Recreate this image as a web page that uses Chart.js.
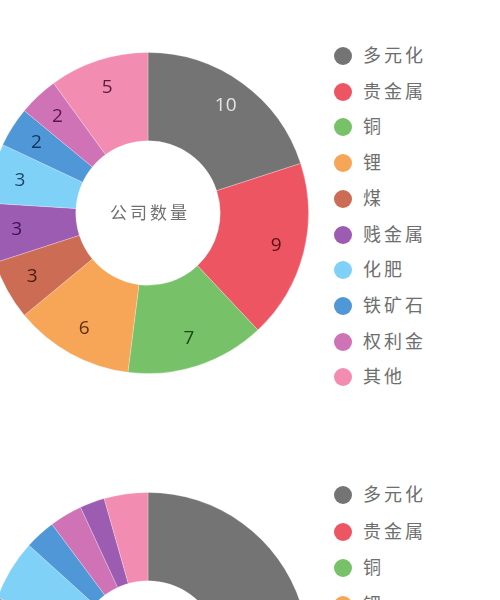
<!DOCTYPE html>
<html>
<head>
<meta charset="utf-8">
<script src="https://cdn.jsdelivr.net/npm/chart.js@4.4.1/dist/chart.umd.min.js"></script>
<style>
html,body{margin:0;padding:0;background:#fff;width:500px;height:600px;overflow:hidden;position:relative;}
.box{position:absolute;width:322px;height:322px;}
.legend{position:absolute;left:334px;font-family:"Noto Sans CJK SC","Noto Sans",sans-serif;font-size:18px;color:#6e6e6e;letter-spacing:3px;}
.item{position:absolute;left:0;white-space:nowrap;height:20px;line-height:20px;}
.dot{position:absolute;left:0;top:1px;width:18px;height:18px;border-radius:50%;}
.txt{position:absolute;left:29px;top:-2px;}
</style>
</head>
<body>
<div class="box" style="left:-13px;top:52px;"><canvas id="c1"></canvas></div>
<div class="box" style="left:-13px;top:492px;"><canvas id="c2"></canvas></div>
<div class="legend" id="l1" style="top:46px;"></div>
<div class="legend" id="l2" style="top:485px;"></div>
<script>
// ---- data ----
const categories1 = ["多元化","贵金属","铜","锂","煤","贱金属","化肥","铁矿石","权利金","其他"];
const companyCounts = [10, 9, 7, 6, 3, 3, 3, 2, 2, 5];
const colors1 = ["#747474","#ee5562","#77c268","#f7a556","#cd6c55","#9b5cb1","#7fd1f7","#4f97d6","#cf72b6","#f28db1"];
const labelColors1 = ["#e4e4e4","#5a1119","#1b4a15","#5a300b","#4a1a12","#3e1450","#1c4a66","#12345a","#5a1448","#5a1a3a"];
const centerText1 = "公司数量";

const categories2 = ["多元化","贵金属","铜","锂","煤","化肥","铁矿石","权利金","贱金属","其他"];
const shares2 = [40, 16, 12, 8, 4.6, 6.1, 3.1, 3.3, 2.5, 4.4];
const colors2 = ["#747474","#ee5562","#77c268","#f7a556","#cd6c55","#7fd1f7","#4f97d6","#cf72b6","#9b5cb1","#f28db1"];

// ---- plugins ----
const sliceLabels = {
  id: 'sliceLabels',
  afterDatasetsDraw(chart, args, opts) {
    if (!opts.show) return;
    const ctx = chart.ctx;
    const meta = chart.getDatasetMeta(0);
    ctx.save();
    ctx.font = '19px "Open Sans", "Noto Sans", sans-serif';
    ctx.textAlign = 'center';
    ctx.textBaseline = 'middle';
    meta.data.forEach((arc, i) => {
      const p = arc.getProps(['x','y','startAngle','endAngle','innerRadius','outerRadius'], true);
      const a = (p.startAngle + p.endAngle) / 2;
      const r = p.innerRadius + 0.68 * (p.outerRadius - p.innerRadius);
      ctx.fillStyle = opts.colors[i];
      ctx.fillText(String(chart.data.datasets[0].data[i]), p.x + r * Math.cos(a), p.y + r * Math.sin(a));
    });
    ctx.restore();
  }
};
const centerLabel = {
  id: 'centerLabel',
  afterDraw(chart, args, opts) {
    if (!opts.text) return;
    const arc = chart.getDatasetMeta(0).data[0];
    const ctx = chart.ctx;
    ctx.save();
    ctx.font = '17px "Noto Sans CJK SC", sans-serif';
    ctx.fillStyle = '#707070';
    ctx.textAlign = 'center';
    ctx.textBaseline = 'middle';
    if ('letterSpacing' in ctx) ctx.letterSpacing = '3px';
    ctx.fillText(opts.text, arc.x + 2, arc.y);
    ctx.restore();
  }
};

function makeChart(id, labels, data, colors, labelColors, text) {
  return new Chart(document.getElementById(id), {
    type: 'doughnut',
    data: { labels, datasets: [{ data, backgroundColor: colors, borderColor: 'rgba(255,255,255,0.25)', borderWidth: 1 }] },
    options: {
      responsive: true, maintainAspectRatio: false, animation: false,
      cutout: '45%',
      layout: { padding: 0 },
      plugins: {
        legend: { display: false }, tooltip: { enabled: false },
        sliceLabels: { show: !!labelColors, colors: labelColors || [] },
        centerLabel: { text: text || '' }
      }
    },
    plugins: [sliceLabels, centerLabel]
  });
}
makeChart('c1', categories1, companyCounts, colors1, labelColors1, centerText1);
makeChart('c2', categories2, shares2, colors2, null, null);

function makeLegend(id, labels, colors, spacing) {
  const el = document.getElementById(id);
  labels.forEach((l, i) => {
    const it = document.createElement('div');
    it.className = 'item';
    it.style.top = (i * spacing) + 'px';
    it.innerHTML = '<span class="dot" style="background:' + colors[i] + '"></span><span class="txt"></span>';
    it.querySelector('.txt').textContent = l;
    el.appendChild(it);
  });
}
makeLegend('l1', categories1, colors1, 35.7);
makeLegend('l2', categories2, colors2, 36.5);
</script>
</body>
</html>
